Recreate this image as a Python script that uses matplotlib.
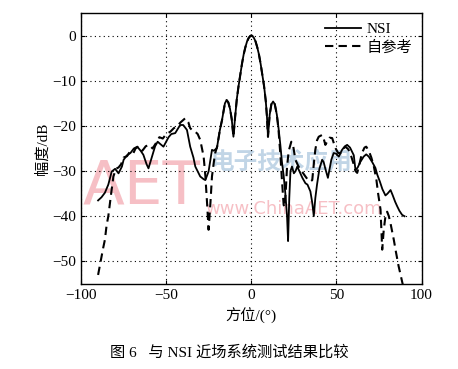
import numpy as np
import matplotlib.pyplot as plt

plt.rcParams['font.family'] = ['Liberation Serif', 'Noto Sans CJK SC']
plt.rcParams['axes.unicode_minus'] = True

# NSI near-field measurement (solid)
nsi_x = [-90, -88, -86, -84, -83, -82, -80, -78, -76, -75, -73, -71, -69, -67, -65,
         -63.4, -61.5, -60.4, -58.5, -56.5, -55, -53.5, -51.6, -50, -48.6, -47, -44.7,
         -41.8, -40, -37.8, -35.9, -34, -32.9, -30, -28, -27, -25.1, -23.1, -22, -20.2,
         -18.5, -17.2, -15.5, -14.5, -13.5, -12.5, -11.5, -10.5, -9.5, -8.5, -7.5, -6.5,
         -5.5, -4.5, -3.5, -2.5, -1.5, -0.5, 0, 0.5, 1.5, 2.5, 3.5, 4.5, 5.5, 6.5, 7.5,
         8.5, 9.2, 9.8, 10.8, 11.8, 12.8, 13.8, 15, 16, 17, 18, 19, 20, 21, 21.6, 22.3,
         23, 23.9, 25, 26, 27, 28.8, 30, 31.8, 33, 34.7, 35.8, 36.7, 37.6, 38.6, 40,
         41.6, 42.5, 43.5, 45, 45.5, 47, 48.4, 50, 51.4, 53.3, 55, 56.3, 58, 60.2, 61.2,
         62.5, 64, 66, 67.5, 69, 71, 72.9, 74, 75.5, 77, 78.8, 80, 81.8, 83, 84.5, 85.7,
         87, 88.6, 90]
nsi_y = [-36.5, -35.8, -34.8, -33, -31.5, -30.1, -29.5, -30.5, -29, -27.5, -26.5, -26, -25,
         -24.6, -25.5, -26.4, -28.5, -29.4, -27, -24.5, -23.5, -24, -24.6, -23.5, -22.5,
         -21.8, -21.6, -19.8, -19.8, -20.9, -24.6, -27, -29, -31.2, -31.8, -32, -30.1,
         -25.3, -25.5, -24.9, -21, -18.7, -15, -14.3, -14.8, -16.2, -18.5, -22.4, -18,
         -14, -11.2, -8.7, -6.3, -4.2, -2.6, -1.3, -0.5, -0.05, 0, -0.05, -0.5, -1.3,
         -2.6, -4.2, -6.3, -8.7, -11.2, -14.5, -18, -22.4, -17.5, -15.2, -14.6, -15.2,
         -17.5, -20.5, -24, -28, -31, -35, -40, -45.5, -36, -30, -29, -30.5, -30, -29,
         -30.5, -31.5, -32.7, -33, -34.5, -37, -40, -36, -33, -29.5, -27.5, -28, -29.5,
         -31.5, -30.5, -27.5, -26, -26.2, -26.8, -25.3, -24.5, -24.2, -24.8, -26.5,
         -29.8, -29.2, -28, -26.8, -26.3, -26.8, -28, -29.3, -30.8, -32.3, -34, -35.4,
         -35, -34.2, -35.3, -36.8, -37.8, -38.8, -39.7, -40]

# self-reference measurement (dashed)
ref_x = [-90, -88.5, -87, -86, -85, -84, -83, -82, -81, -79.5, -78, -76.5, -75, -73,
         -71.5, -69.5, -68, -66, -64, -62, -60, -58, -56, -54, -52, -50, -47.6, -45.5,
         -43.7, -41.5, -38.8, -37, -35.9, -34, -32.9, -31.5, -30, -28, -27, -26, -25.1,
         -24, -23.1, -22, -21.2, -20, -18.5, -17.2, -15.5, -14.5, -13.5, -12.5, -11.5,
         -10.5, -9.5, -8.5, -7.5, -6.5, -5.5, -4.5, -3.5, -2.5, -1.5, -0.5, 0, 0.5, 1.5,
         2.5, 3.5, 4.5, 5.5, 6.5, 7.5, 8.5, 9.2, 9.8, 10.8, 11.8, 12.8, 13.8, 15, 16, 17,
         18, 19, 19.6, 20.3, 21, 22, 23.5, 24.5, 25.9, 27.5, 28.8, 30.5, 31.8, 33, 34.7,
         35.8, 36.7, 37.6, 38.6, 39.6, 41.6, 42.5, 43.5, 44.5, 46, 47.5, 49.4, 51, 52.4,
         53.5, 55.3, 57, 58.5, 60, 61.2, 62.2, 63.5, 65, 66.5, 67.5, 69, 70.5, 72, 73.5,
         74.5, 75.9, 76.9, 77.8, 78.8, 79.8, 80.8, 82, 83.7, 85, 86.5, 88, 89.5]
ref_y = [-53, -50, -47, -45.2, -42, -40, -37, -34, -31.2, -29.5, -29.2, -28.5, -27, -26.7,
         -25.8, -26.2, -25, -24.5, -25.5, -24.5, -24.2, -25, -23.8, -22.5, -22.8, -21.8,
         -21.3, -20.5, -20.1, -19.2, -18.3, -19.2, -20.5, -21.2, -21.3, -21.8, -23.1,
         -26.8, -31, -37, -43, -37, -31.2, -28, -26, -24.5, -21, -18.7, -15, -14.3,
         -14.8, -16.2, -18.5, -22.4, -18, -14, -11.2, -8.7, -6.3, -4.2, -2.6, -1.3,
         -0.5, -0.05, 0, -0.05, -0.5, -1.3, -2.6, -4.2, -6.3, -8.7, -11.2, -14.5, -18,
         -22.4, -17.5, -15.2, -14.6, -15.2, -17.5, -21, -26, -32, -37.5, -38, -34, -29,
         -25.5, -23.5, -24.2, -27.5, -28.8, -29.7, -30.5, -31.2, -31.8, -32.3, -32,
         -28.5, -25.3, -23.2, -22.4, -22, -22.8, -24.2, -23.5, -22.6, -22.7, -24.9, -26,
         -26, -25.2, -24.6, -25.2, -26.5, -28.3, -30, -30.4, -28.5, -26, -24.8, -24.6,
         -25.5, -27, -29, -32, -35, -38.5, -47.4, -43, -40, -39, -40, -42, -45.2, -48,
         -51, -53.5, -56]

xticks = [-100, -50, 0, 50, 100]
yticks = [0, -10, -20, -30, -40, -50]

fig = plt.figure(figsize=(4.58, 3.69), dpi=100)
ax = fig.add_axes([0.177, 0.2304, 0.7434, 0.7344])

# watermark
ax.text(-99, -33.5, 'AET', fontsize=44, family='DejaVu Sans',
        color='#f08c96', alpha=0.55, va='center', zorder=0)
ax.text(-24, -28, '电子技术应用', fontsize=17, color='#8fb3d3', alpha=0.55,
        family='Noto Sans CJK SC', fontweight='bold', va='center', zorder=0)
ax.text(-27, -38.5, 'www.ChinaAET.com', fontsize=13, family='DejaVu Sans',
        color='#f08c96', alpha=0.55, va='center', zorder=0)

ax.plot(nsi_x, nsi_y, color='black', lw=1.3, label='NSI', zorder=3)
ax.plot(ref_x, ref_y, color='black', lw=1.5, dashes=(4, 2.5), label='自参考', zorder=3)

ax.set_xlim(-100, 100)
ax.set_ylim(-55, 5)
ax.set_xticks(xticks)
ax.set_yticks(yticks)
ax.grid(True, color='black', linestyle=(0, (1, 3)), lw=0.8)
ax.tick_params(direction='in', length=3, labelsize=11, top=True, right=True)
for s in ax.spines.values():
    s.set_linewidth(1.0)

ax.set_xlabel('方位/(°)', fontsize=11, labelpad=4)
ax.set_ylabel('幅度/dB', fontsize=11, labelpad=2)

ax.legend(loc='upper right', frameon=False, fontsize=11, handlelength=2.3,
          handletextpad=0.4, borderaxespad=0.2, labelspacing=0.3)

fig.text(0.5, 0.046, '图 6   与 NSI 近场系统测试结果比较', ha='center', va='center',
         fontsize=11)

fig.savefig('out.png', dpi=100)
